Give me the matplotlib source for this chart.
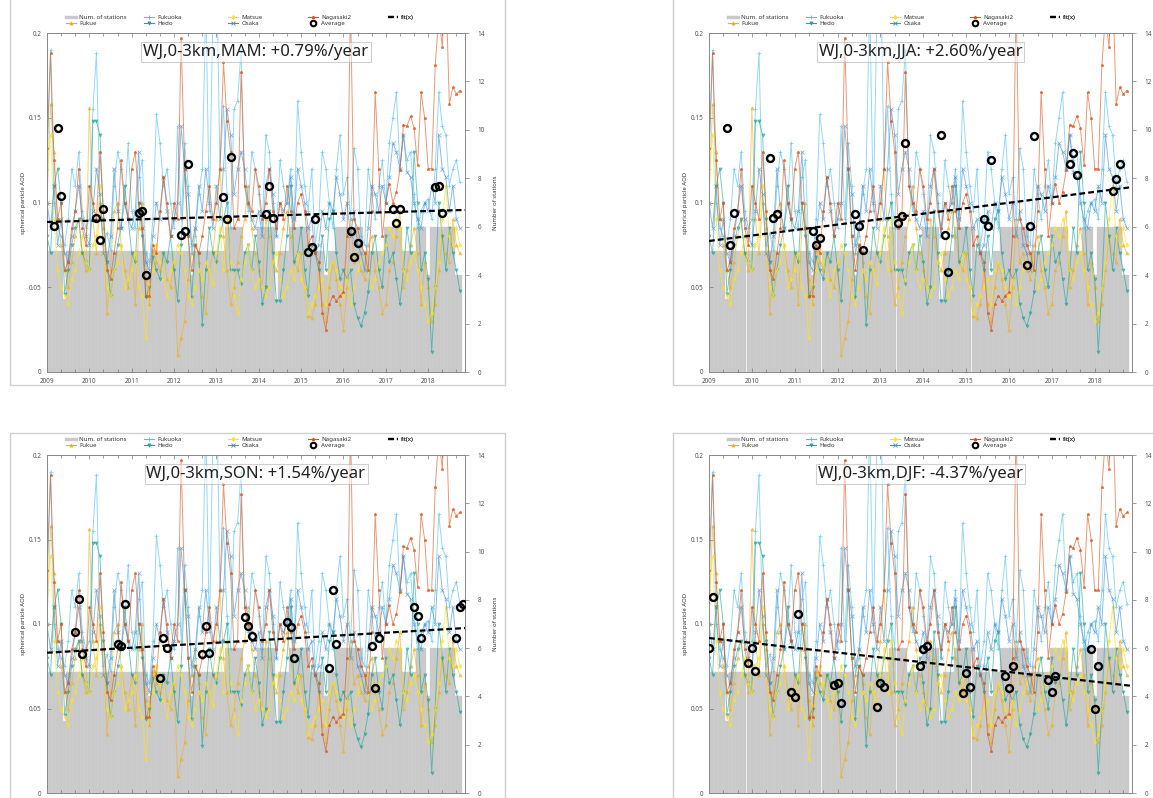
import numpy as np
import matplotlib
matplotlib.use("Agg")
import matplotlib.pyplot as plt
from matplotlib.lines import Line2D
from matplotlib.patches import Rectangle

plt.rcParams['font.family'] = ['Noto Sans', 'DejaVu Sans']

# ---------------- data ----------------
START_YEAR = 2009
N_MONTHS = 118  # Jan 2009 .. Oct 2018

num_stations = [
    5, 5, 5, 5, 5, 3, 5, 5, 5, 5, 5, 5,
    5, 5, 5, 5, 5, 5, 5, 5, 5, 5, 5, 5,
    5, 5, 5, 5, 5, 4, 5, 5, 5, 5, 5, 5,
    5, 5, 5, 5, 5, 4, 5, 5, 5, 5, 5, 5,
    5, 5, 5, 6, 6, 6, 6, 6, 5, 5, 5, 5,
    6, 6, 6, 6, 6, 3, 5, 5, 5, 6, 6, 6,
    6, 6, 6, 5, 5, 5, 5, 4, 5, 5, 6, 6,
    6, 6, 6, 6, 6, 6, 5, 5, 5, 5, 5, 5,
    6, 6, 6, 6, 6, 5, 5, 5, 5, 6, 6, 6,
    4, 6, 6, 6, 6, 6, 6, 6, 4, 4,
]

fukue = [
    0.100, 0.158, 0.130, 0.090, 0.075, 0.060, 0.050, 0.065, 0.080, 0.090, 0.070, 0.060,
    0.156, 0.090, 0.070, 0.100, 0.085, 0.035, 0.060, 0.095, 0.100, 0.075, 0.060, 0.050,
    0.070, 0.040, 0.085, 0.100, 0.055, 0.040, 0.072, 0.065, 0.060, 0.070, 0.055, 0.050,
    0.065, 0.010, 0.020, 0.030, 0.055, 0.070, 0.085, 0.065, 0.045, 0.035, 0.060, 0.070,
    0.090, 0.120, 0.080, 0.060, 0.040, 0.050, 0.065, 0.080, 0.090, 0.110, 0.085, 0.070,
    0.060, 0.050, 0.090, 0.080, 0.065, 0.060, 0.070, 0.085, 0.095, 0.080, 0.065, 0.060,
    0.070, 0.050, 0.033, 0.032, 0.040, 0.060, 0.040, 0.030, 0.050, 0.065, 0.055, 0.040,
    0.025, 0.050, 0.090, 0.065, 0.070, 0.060, 0.055, 0.075, 0.080, 0.060, 0.050, 0.035,
    0.040, 0.060, 0.065, 0.080, 0.095, 0.050, 0.060, 0.075, 0.085, 0.070, 0.040, 0.065,
    0.050, 0.030, 0.040, 0.060, 0.080, 0.070, 0.065, 0.090, 0.075, 0.070,
]

fukuoka = [
    0.120, 0.190, 0.100, 0.085, 0.080, 0.075, 0.090, 0.120, 0.110, 0.130, 0.095, 0.085,
    0.090, 0.155, 0.188, 0.100, 0.075, 0.082, 0.072, 0.110, 0.130, 0.120, 0.100, 0.135,
    0.095, 0.085, 0.115, 0.125, 0.070, 0.065, 0.090, 0.152, 0.135, 0.110, 0.120, 0.100,
    0.085, 0.145, 0.090, 0.135, 0.110, 0.070, 0.080, 0.105, 0.120, 0.220, 0.095, 0.210,
    0.250, 0.120, 0.157, 0.105, 0.085, 0.155, 0.160, 0.190, 0.110, 0.095, 0.130, 0.120,
    0.105, 0.085, 0.140, 0.130, 0.100, 0.080, 0.125, 0.110, 0.100, 0.120, 0.085, 0.160,
    0.130, 0.110, 0.095, 0.120, 0.075, 0.090, 0.130, 0.120, 0.100, 0.085, 0.120, 0.140,
    0.105, 0.115, 0.090, 0.132, 0.120, 0.080, 0.075, 0.120, 0.105, 0.090, 0.110, 0.125,
    0.100, 0.135, 0.150, 0.165, 0.120, 0.140, 0.125, 0.130, 0.105, 0.085, 0.095, 0.100,
    0.102, 0.090, 0.120, 0.165, 0.145, 0.140, 0.110, 0.120, 0.125, 0.112,
]

hedo = [
    0.080, 0.070, 0.110, 0.120, 0.100, 0.046, 0.060, 0.075, 0.085, 0.090, 0.070, 0.065,
    0.060, 0.148, 0.148, 0.140, 0.090, 0.065, 0.045, 0.060, 0.075, 0.085, 0.110, 0.090,
    0.070, 0.065, 0.100, 0.080, 0.044, 0.050, 0.068, 0.060, 0.055, 0.070, 0.065, 0.080,
    0.060, 0.042, 0.075, 0.120, 0.080, 0.044, 0.075, 0.070, 0.028, 0.060, 0.085, 0.070,
    0.065, 0.080, 0.090, 0.100, 0.060, 0.060, 0.060, 0.052, 0.070, 0.075, 0.060, 0.080,
    0.065, 0.040, 0.050, 0.095, 0.070, 0.042, 0.042, 0.060, 0.080, 0.110, 0.065, 0.070,
    0.085, 0.060, 0.045, 0.075, 0.070, 0.060, 0.080, 0.060, 0.090, 0.095, 0.070, 0.055,
    0.060, 0.055, 0.060, 0.040, 0.032, 0.027, 0.035, 0.047, 0.070, 0.080, 0.060, 0.050,
    0.080, 0.065, 0.070, 0.055, 0.040, 0.060, 0.085, 0.070, 0.130, 0.100, 0.060, 0.070,
    0.055, 0.012, 0.050, 0.100, 0.080, 0.060, 0.085, 0.070, 0.060, 0.048,
]

matsue = [
    0.120, 0.140, 0.090, 0.060, 0.050, 0.045, 0.040, 0.055, 0.060, 0.070, 0.080, 0.065,
    0.060, 0.075, 0.080, 0.110, 0.070, 0.050, 0.045, 0.060, 0.065, 0.075, 0.050, 0.055,
    0.060, 0.070, 0.050, 0.045, 0.020, 0.052, 0.060, 0.075, 0.065, 0.055, 0.045, 0.060,
    0.065, 0.075, 0.070, 0.060, 0.045, 0.040, 0.050, 0.060, 0.055, 0.065, 0.060, 0.052,
    0.070, 0.085, 0.060, 0.090, 0.065, 0.045, 0.035, 0.055, 0.065, 0.075, 0.060, 0.050,
    0.055, 0.050, 0.045, 0.050, 0.065, 0.070, 0.055, 0.045, 0.050, 0.060, 0.055, 0.070,
    0.055, 0.050, 0.035, 0.040, 0.045, 0.050, 0.055, 0.040, 0.060, 0.065, 0.060, 0.050,
    0.045, 0.055, 0.040, 0.050, 0.060, 0.065, 0.070, 0.060, 0.050, 0.055, 0.065, 0.070,
    0.075, 0.085, 0.080, 0.090, 0.085, 0.060, 0.055, 0.065, 0.070, 0.060, 0.050, 0.040,
    0.030, 0.035, 0.050, 0.065, 0.090, 0.110, 0.080, 0.075, 0.085, 0.075,
]

osaka = [
    0.100, 0.085, 0.110, 0.075, 0.090, 0.070, 0.065, 0.080, 0.095, 0.110, 0.090, 0.080,
    0.075, 0.095, 0.120, 0.105, 0.070, 0.065, 0.080, 0.120, 0.095, 0.085, 0.100, 0.090,
    0.085, 0.095, 0.130, 0.085, 0.065, 0.060, 0.080, 0.100, 0.090, 0.115, 0.095, 0.080,
    0.090, 0.100, 0.145, 0.120, 0.105, 0.075, 0.085, 0.110, 0.095, 0.120, 0.100, 0.085,
    0.110, 0.090, 0.120, 0.155, 0.140, 0.105, 0.120, 0.130, 0.120, 0.100, 0.090, 0.085,
    0.095, 0.080, 0.110, 0.120, 0.105, 0.080, 0.100, 0.095, 0.100, 0.115, 0.090, 0.120,
    0.110, 0.100, 0.085, 0.090, 0.070, 0.075, 0.095, 0.085, 0.100, 0.095, 0.115, 0.105,
    0.090, 0.100, 0.080, 0.095, 0.075, 0.070, 0.060, 0.085, 0.110, 0.105, 0.095, 0.110,
    0.100, 0.115, 0.135, 0.130, 0.120, 0.140, 0.118, 0.115, 0.100, 0.090, 0.085, 0.100,
    0.095, 0.110, 0.100, 0.140, 0.120, 0.115, 0.095, 0.110, 0.090, 0.085,
]

nagasaki2 = [
    0.132, 0.188, 0.125, 0.090, 0.100, 0.060, 0.065, 0.085, 0.095, 0.120, 0.085, 0.075,
    0.110, 0.100, 0.090, 0.130, 0.095, 0.060, 0.055, 0.070, 0.085, 0.125, 0.100, 0.090,
    0.120, 0.130, 0.100, 0.085, 0.045, 0.045, 0.075, 0.070, 0.095, 0.115, 0.100, 0.080,
    0.100, 0.090, 0.197, 0.120, 0.080, 0.060, 0.075, 0.070, 0.080, 0.095, 0.110, 0.090,
    0.100, 0.120, 0.183, 0.148, 0.130, 0.085, 0.090, 0.177, 0.110, 0.100, 0.095, 0.120,
    0.110, 0.090, 0.100, 0.120, 0.095, 0.085, 0.100, 0.090, 0.110, 0.095, 0.085, 0.100,
    0.105, 0.095, 0.075, 0.080, 0.070, 0.065, 0.035, 0.025, 0.040, 0.045, 0.042, 0.045,
    0.047, 0.080, 0.220, 0.090, 0.085, 0.075, 0.070, 0.060, 0.095, 0.165, 0.120, 0.080,
    0.100, 0.111, 0.100, 0.106, 0.119, 0.146, 0.145, 0.151, 0.144, 0.122, 0.165, 0.150,
    0.120, 0.120, 0.181, 0.210, 0.192, 0.230, 0.158, 0.168, 0.164, 0.166,
]

# seasonal averages (three months per year, 2009..2018)
avg_years = list(range(2009, 2019))
mam_avg = [[0.086, 0.144, 0.104], [0.091, 0.078, 0.096], [0.094, 0.095, 0.057],
           [0.081, 0.083, 0.123], [0.103, 0.090, 0.127], [0.093, 0.110, 0.091],
           [0.071, 0.074, 0.090], [0.083, 0.068, 0.076], [0.096, 0.088, 0.096],
           [0.109, 0.110, 0.094]]
jja_avg = [[0.144, 0.075, 0.094], [0.126, 0.091, 0.093], [0.083, 0.075, 0.079],
           [0.093, 0.086, 0.072], [0.088, 0.092, 0.135], [0.140, 0.081, 0.059],
           [0.090, 0.086, 0.125], [0.063, 0.086, 0.139], [0.123, 0.129, 0.116],
           [0.107, 0.114, 0.123]]
son_avg = [[0.095, 0.115, 0.082], [0.088, 0.087, 0.112], [0.068, 0.092, 0.086],
           [0.082, 0.099, 0.083], [0.104, 0.099, 0.093], [0.101, 0.098, 0.080],
           [0.074, 0.120, 0.088], [0.087, 0.062, 0.092], [0.110, 0.105, 0.092],
           [0.092, 0.110, 0.112]]
djf_avg = [[np.nan, 0.086, 0.116], [0.077, 0.086, 0.072], [0.060, 0.057, 0.106],
           [0.064, 0.065, 0.053], [0.051, 0.065, 0.063], [0.075, 0.085, 0.087],
           [0.059, 0.071, 0.063], [0.069, 0.062, 0.075], [0.067, 0.060, 0.069],
           [0.085, 0.050, 0.075]]

season_names = ["MAM", "JJA", "SON", "DJF"]
season_months = [[3, 4, 5], [6, 7, 8], [9, 10, 11], [0, 1, 2]]  # 0 = December of previous year
season_trend = ["+0.79", "+2.60", "+1.54", "-4.37"]
# linear fit: value at 2009.0 and slope per year
fit_intercept = [0.0885, 0.0773, 0.0830, 0.0917]
fit_slope = [0.00072, 0.00322, 0.00148, -0.00287]

# ---------------- plotting ----------------
W, H = 1153, 798
fig = plt.figure(figsize=(W / 100, H / 100), dpi=100)

# panel frames (screenshot borders)
for (x0, y0, w, h) in [(10, -10, 495, 395), (673, -10, 500, 395),
                       (10, 433, 495, 380), (673, 433, 500, 380)]:
    fig.patches.append(Rectangle((x0 / W, 1 - (y0 + h) / H), w / W, h / H,
                                 transform=fig.transFigure, fill=False,
                                 edgecolor='#d0d0d0', lw=1.0))

axes_px = [(47, 33, 465, 372), (709, 33, 1132, 372),
           (47, 455, 465, 793), (709, 455, 1132, 793)]

months = np.arange(N_MONTHS)
xm = START_YEAR + months / 12.0

stations = [
    ("Fukue", fukue, '#EDB120', '^'),
    ("Fukuoka", fukuoka, '#4DBEEE', '+'),
    ("Hedo", hedo, '#1FA59C', 'v'),
    ("Matsue", matsue, '#FFE21A', 'd'),
    ("Osaka", osaka, '#3F8FD2', 'x'),
    ("Nagasaki2", nagasaki2, '#D95319', '*'),
]

XMAX = 2018.87
FS = 4.6
tick_col = '#555555'

for k, (l, t, r, b) in enumerate(axes_px):
    ax = fig.add_axes([l / W, 1 - b / H, (r - l) / W, (b - t) / H])
    ax2 = ax.twinx()
    ax.set_zorder(ax2.get_zorder() + 1)
    ax.patch.set_visible(False)

    ax2.bar(xm, num_stations, width=1 / 12, color='#c9c9c9',
            edgecolor='#d2d2d2', linewidth=0.3)
    ax2.set_ylim(0, 14)
    ax2.set_yticks(range(0, 15, 2))
    ax2.tick_params(axis='y', direction='out', length=3, width=0.5,
                    labelsize=FS, colors='#777777', labelcolor=tick_col, pad=6)
    ax2.set_ylabel("Number of stations", fontsize=FS - 0.3, color='#333333', labelpad=6)

    for name, vals, col, mk in stations:
        ax.plot(xm, vals, color=col, lw=0.7, alpha=0.6, marker=mk,
                markersize=2.2, markeredgewidth=0.6)

    # seasonal averages
    avg = [mam_avg, jja_avg, son_avg, djf_avg][k]
    ax_x, ax_y = [], []
    for yi, yr in enumerate(avg_years):
        for mi, m in enumerate(season_months[k]):
            if k == 3:
                x = yr + (m - 1) / 12.0 if m > 0 else yr - 1 / 12.0
            else:
                x = yr + (m - 1) / 12.0
            ax_x.append(x)
            ax_y.append(avg[yi][mi])
    ax.plot(ax_x, ax_y, linestyle='none', marker='o', markersize=5,
            markerfacecolor='none', markeredgecolor='black', markeredgewidth=1.7,
            zorder=5)

    # fit line
    fx = np.array([START_YEAR, XMAX])
    fy = fit_intercept[k] + fit_slope[k] * (fx - START_YEAR)
    ax.plot(fx, fy, color='black', lw=1.6, dashes=(2.6, 1.4), zorder=6)

    ax.set_xlim(START_YEAR, XMAX)
    ax2.set_xlim(START_YEAR, XMAX)
    ax.set_ylim(0, 0.2)
    ax.set_yticks([0, 0.05, 0.1, 0.15, 0.2])
    ax.set_yticklabels(["0", "0.05", "0.1", "0.15", "0.2"])
    ax.set_xticks(range(2009, 2019))
    ax.set_xticks(np.arange(2009, XMAX, 1 / 3), minor=True)
    ax.tick_params(axis='both', which='both', direction='in', top=True,
                   labelsize=FS, colors='#777777', labelcolor=tick_col, width=0.5)
    ax.tick_params(axis='both', which='major', length=3)
    ax.tick_params(axis='x', which='minor', length=2)
    ax.tick_params(axis='x', pad=4)
    ax.tick_params(axis='y', pad=4)
    ax.set_ylabel("spherical particle AOD", fontsize=FS - 0.3, color='#333333', labelpad=2)
    for a in (ax, ax2):
        for s in a.spines.values():
            s.set_color('#8a8a8a')
            s.set_linewidth(0.7)

    # title box
    ax.text(0.5, 0.944, f"WJ,0-3km,{season_names[k]}: {season_trend[k]}%/year",
            transform=ax.transAxes, ha='center', va='center', fontsize=12,
            color='#222222', zorder=10,
            bbox=dict(boxstyle='square,pad=0.12', facecolor='white', alpha=0.55,
                      edgecolor='#aaaaaa', linewidth=0.8))

    # legend (five columns placed individually)
    h_bar = Line2D([], [], color='#c9c9c9', lw=2.5)
    hs = {name: Line2D([], [], color=col, lw=0.8, marker=mk, markersize=2.2,
                       markeredgewidth=0.6) for name, _, col, mk in stations}
    h_avg = Line2D([], [], linestyle='none', marker='o', markersize=4,
                   markerfacecolor='none', markeredgecolor='black', markeredgewidth=1.5)
    h_fit = Line2D([], [], color='black', lw=1.6, dashes=(2.6, 1.4))
    cols = [
        ([h_bar, hs["Fukue"]], ["Num. of stations", "Fukue"]),
        ([hs["Fukuoka"], hs["Hedo"]], ["Fukuoka", "Hedo"]),
        ([hs["Matsue"], hs["Osaka"]], ["Matsue", "Osaka"]),
        ([hs["Nagasaki2"], h_avg], ["Nagasaki2", "Average"]),
        ([h_fit], ["fit(x)"]),
    ]
    offsets_px = [22, 100, 184, 264, 344]
    width_px = r - l
    for (hh, ll), off in zip(cols, offsets_px):
        leg = ax.legend(hh, ll, loc='upper left',
                        bbox_to_anchor=((off - 3) / width_px, 1 + 18 / (b - t)),
                        frameon=False, fontsize=FS - 0.2, handlelength=1.7,
                        handletextpad=0.5, labelspacing=0.05, borderpad=0,
                        borderaxespad=0)
        for txt in leg.get_texts():
            txt.set_color('#333333')
        ax.add_artist(leg)

fig.savefig("out.png", dpi=100)
